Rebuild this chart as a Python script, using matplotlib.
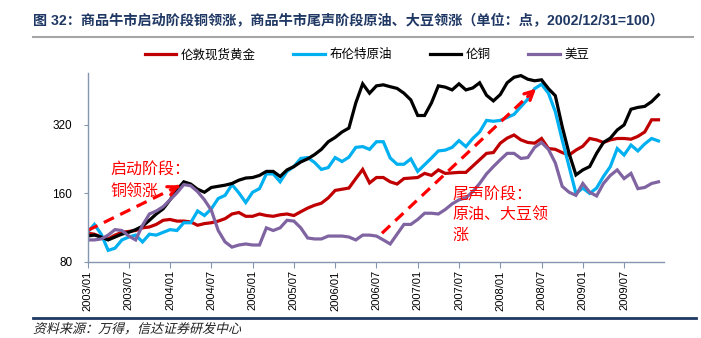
import matplotlib
matplotlib.use("Agg")
import matplotlib.pyplot as plt
from matplotlib.lines import Line2D
from matplotlib.ticker import FixedLocator, NullLocator, FixedFormatter
from matplotlib.textpath import TextPath
from matplotlib.patches import PathPatch
from matplotlib.font_manager import FontProperties
from matplotlib.transforms import Affine2D

plt.rcParams["font.family"] = ["Liberation Sans", "Noto Sans CJK SC"]

# monthly, 2003/01 .. 2009/12 (index 0..83), 2002/12/31 = 100
gold = [107, 106, 103, 101, 105, 108, 109, 110, 113, 114, 117, 122,
        123, 121, 121, 120, 116, 118, 119, 121, 124, 130, 132, 127,
        127, 130, 128, 127, 129, 130, 128, 133, 138, 142, 145, 153,
        165, 167, 169, 186, 204, 178, 188, 188, 180, 176, 186, 187,
        188, 196, 192, 203, 196, 197, 198, 198, 211, 225, 240, 242,
        266, 280, 289, 275, 268, 266, 279, 252, 250, 242, 236, 248,
        258, 279, 275, 268, 275, 279, 279, 277, 285, 298, 337, 337]
brent = [108, 117, 106, 90, 92, 100, 103, 105, 98, 106, 105, 108,
         111, 110, 119, 119, 134, 128, 137, 152, 157, 175, 161, 146,
         162, 168, 195, 195, 180, 200, 210, 228, 230, 219, 204, 208,
         230, 221, 231, 255, 257, 250, 270, 270, 229, 215, 215, 227,
         200, 214, 229, 246, 248, 255, 273, 257, 279, 298, 335, 332,
         335, 345, 356, 385, 415, 462, 483, 441, 366, 275, 210, 160,
         169, 160, 169, 190, 210, 252, 236, 261, 246, 264, 279, 272]
copper = [104, 105, 103, 100, 103, 106, 108, 111, 115, 122, 130, 137,
          150, 166, 180, 176, 167, 162, 170, 172, 174, 177, 183, 187,
          188, 192, 200, 200, 190, 203, 210, 220, 227, 237, 250, 270,
          282, 298, 310, 400, 485, 441, 475, 480, 471, 463, 441, 412,
          352, 352, 400, 475, 469, 456, 485, 456, 465, 490, 432, 408,
          435, 490, 518, 527, 508, 500, 505, 462, 430, 315, 240, 193,
          203, 210, 240, 268, 280, 304, 320, 375, 382, 386, 405, 434]
soy = [100, 100, 101, 105, 111, 110, 104, 100, 116, 130, 134, 140,
       150, 161, 175, 173, 163, 150, 135, 110, 98, 93, 95, 96,
       95, 95, 113, 110, 113, 122, 121, 113, 102, 101, 101, 104,
       104, 104, 103, 100, 105, 105, 104, 100, 96, 106, 117, 117,
       123, 131, 131, 130, 136, 144, 150, 153, 163, 177, 195, 210,
       225, 240, 240, 228, 230, 255, 268, 250, 218, 172, 162, 157,
       177, 162, 156, 177, 192, 203, 186, 196, 168, 170, 177, 180]

series_names = ["伦敦现货黄金", "布伦特原油", "伦铜", "美豆"]
series_colors = ["#C00000", "#00B0F0", "#000000", "#8064A2"]

tick_pos = [0, 6, 12, 18, 24, 30, 36, 42, 48, 54, 60, 66, 72, 78]
tick_labels = ["2003/01", "2003/07", "2004/01", "2004/07", "2005/01", "2005/07",
               "2006/01", "2006/07", "2007/01", "2007/07", "2008/01", "2008/07",
               "2009/01", "2009/07"]
y_ticks = [80, 160, 320]

# annotation arrows: (month index, value)
arrow1 = ((0, 110), (13.8, 176))
arrow2 = ((42.8, 107), (65.5, 471))

W, H = 701, 338
fig = plt.figure(figsize=(W / 100, H / 100), dpi=100)
ax = fig.add_axes([87.5 / W, 1 - 262 / H, (664 - 87.5) / W, (262 - 73) / H])

x = list(range(len(gold)))
for vals, name, col in zip([gold, brent, copper, soy], series_names, series_colors):
    ax.plot(x, vals, color=col, lw=2.3, label=name, solid_joinstyle="miter")

ax.set_yscale("log", base=2)
ax.set_ylim(80, 541)
ax.set_xlim(0, 83.8)
ax.yaxis.set_major_locator(FixedLocator(y_ticks))
ax.yaxis.set_major_formatter(FixedFormatter([str(v) for v in y_ticks]))
ax.yaxis.set_minor_locator(NullLocator())
ax.set_xticks(tick_pos)
ax.set_xticklabels(tick_labels, rotation=90, fontsize=8)
ax.tick_params(axis="y", labelsize=8.5, length=3, color="#8496B0", pad=8)
ax.tick_params(axis="x", length=4, color="#8496B0", pad=2)

for s in ["top", "right"]:
    ax.spines[s].set_visible(False)
for s in ["left", "bottom"]:
    ax.spines[s].set_color("#8496B0")
    ax.spines[s].set_linewidth(1.0)

# dashed arrows
for (x0, y0), (x1, y1) in [arrow1, arrow2]:
    ax.plot([x0, x1 - (x1 - x0) * 0.05], [y0, y0 * (y1 / y0) ** 0.95],
            color="#FF0000", lw=2.3, ls=(0, (3.5, 2.2)))
    ax.annotate("", xy=(x1, y1), xytext=(x1 - (x1 - x0) * 0.08, y0 * (y1 / y0) ** 0.92),
                arrowprops=dict(arrowstyle="->", color="#FF0000", lw=2.3, mutation_scale=16))

red = "#FF0000"
ax.text(3.3, 203, "启动阶段：", color=red, fontsize=11.5, va="center", ha="left")
ax.text(3.3, 162, "铜领涨", color=red, fontsize=11.5, va="center", ha="left")
ax.text(53.1, 157, "尾声阶段：", color=red, fontsize=11.5, va="center", ha="left")
ax.text(53.1, 128, "原油、大豆领", color=red, fontsize=11.5, va="center", ha="left")
ax.text(53.1, 105, "涨", color=red, fontsize=11.5, va="center", ha="left")

fig.legend(loc="center", bbox_to_anchor=(367 / W, 1 - 55 / H), ncol=4, frameon=False,
           handlelength=2.5, handletextpad=0.4, columnspacing=3.0, fontsize=9)

fig.text(33 / W, 1 - 21 / H,
         "图 32：商品牛市启动阶段铜领涨，商品牛市尾声阶段原油、大豆领涨（单位：点，2002/12/31=100）",
         fontsize=10.2, fontweight="bold", color="#1F3864", va="center", ha="left")
fig.add_artist(Line2D([33 / W, 693 / W], [1 - 37 / H, 1 - 37 / H], color="#A6A6A6", lw=1.5,
                      transform=fig.transFigure))
fig.add_artist(Line2D([33 / W, 696 / W], [1 - 318 / H, 1 - 318 / H], color="#1F3864", lw=2.0,
                      transform=fig.transFigure))

# source note, slanted like the original italic
src = TextPath((0, 0), "资料来源：万得，信达证券研发中心", size=13,
               prop=FontProperties(family="Noto Sans CJK SC"))
fig.add_artist(PathPatch(src, facecolor="#222222", lw=0,
                         transform=Affine2D().skew_deg(14, 0).translate(33, H - 333)))

fig.savefig("out.png", dpi=100)
